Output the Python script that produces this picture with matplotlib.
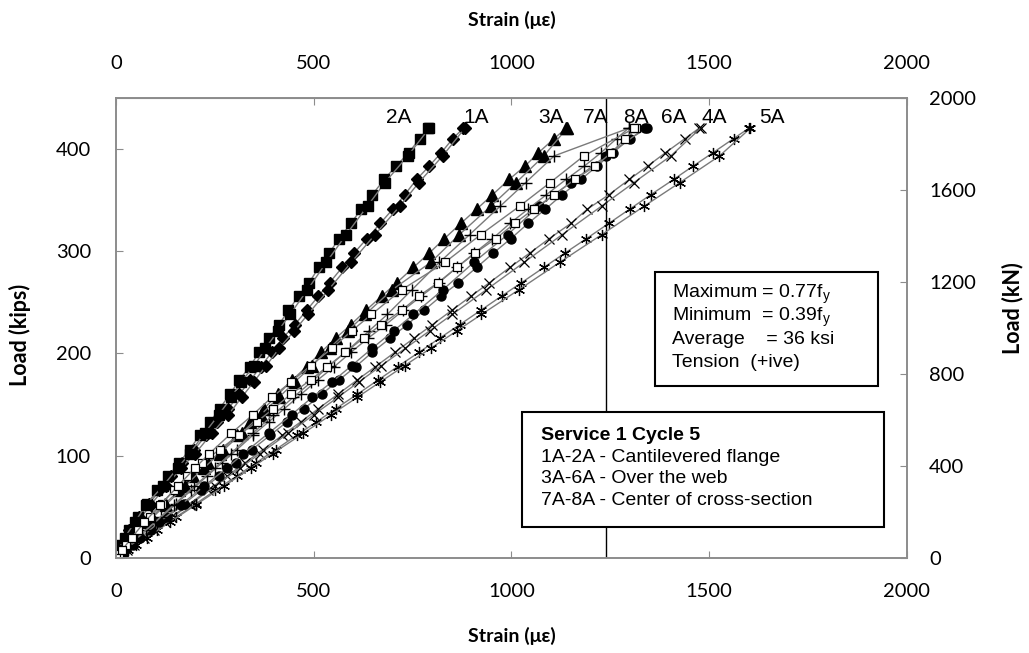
import matplotlib.pyplot as plt
from matplotlib.patches import Rectangle

# load steps (kips) shared by all gauges; first branch goes up, second branch comes back down
load_up = [0, 4, 13, 27, 40, 53, 66, 80, 93, 106, 120, 133, 146, 160, 174, 187, 201,
           215, 228, 242, 256, 269, 284, 298, 312, 327, 341, 355, 370, 383, 396, 410, 420]
load_dn = [420, 393, 367, 344, 316, 289, 262, 238, 222, 205, 188, 172, 157, 140, 122,
           102, 88, 70, 52, 35, 20, 8, 0]

# strain readings (microstrain) per gauge
strain_up = {
    "1A": [0, 4, 14, 34, 58, 84, 110, 138, 168, 198, 228, 256, 284, 312, 340, 366, 394,
           422, 452, 482, 512, 540, 572, 602, 634, 668, 700, 730, 760, 792, 822, 852, 878],
    "2A": [0, 2, 10, 32, 55, 78, 105, 132, 160, 186, 212, 238, 262, 288, 312, 338, 362,
           388, 412, 436, 462, 488, 513, 539, 564, 594, 620, 648, 678, 708, 740, 768, 788],
    "3A": [0, 6, 24, 56, 90, 124, 160, 196, 232, 270, 306, 340, 374, 410, 446, 482, 518,
           556, 594, 632, 672, 710, 752, 792, 830, 872, 912, 952, 994, 1034, 1068, 1108, 1138],
    "4A": [0, 14, 46, 95, 140, 186, 232, 281, 326, 372, 421, 467, 512, 561, 610, 656, 705,
           754, 800, 849, 898, 944, 996, 1046, 1095, 1150, 1192, 1246, 1298, 1344, 1389, 1439, 1474],
    "5A": [0, 15, 50, 103, 152, 202, 251, 305, 354, 404, 457, 507, 556, 610, 663, 712, 766,
           819, 869, 922, 975, 1025, 1082, 1135, 1189, 1246, 1299, 1352, 1410, 1459, 1509, 1562, 1600],
    "6A": [0, 12, 42, 88, 130, 172, 215, 260, 303, 344, 390, 432, 476, 520, 564, 606, 648,
           694, 736, 779, 822, 866, 912, 954, 998, 1042, 1086, 1128, 1176, 1216, 1256, 1300, 1342],
    "7A": [0, 10, 36, 76, 114, 152, 190, 230, 268, 306, 346, 386, 426, 468, 510, 552, 594,
           638, 682, 726, 772, 816, 862, 906, 952, 996, 1042, 1088, 1138, 1184, 1226, 1266, 1296],
    "8A": [0, 8, 26, 56, 86, 116, 146, 180, 218, 262, 310, 356, 398, 442, 492, 534, 580,
           626, 670, 722, 766, 814, 862, 908, 960, 1008, 1056, 1108, 1160, 1212, 1252, 1288, 1316],
}
strain_dn = {
    "1A": [882, 826, 766, 718, 655, 595, 537, 485, 451, 413, 380, 348, 318, 284, 243, 200, 165, 126, 88, 54, 27, 9, 0],
    "2A": [792, 738, 680, 636, 582, 532, 484, 440, 410, 378, 350, 316, 292, 260, 224, 186, 156, 118, 76, 48, 22, 6, 0],
    "3A": [1140, 1082, 1012, 948, 868, 796, 698, 630, 586, 540, 496, 452, 412, 366, 318, 262, 222, 174, 126, 80, 42, 14, 0],
    "4A": [1478, 1403, 1310, 1228, 1128, 1032, 936, 850, 793, 732, 671, 614, 561, 500, 436, 364, 314, 250, 186, 125, 72, 29, 0],
    "5A": [1604, 1526, 1426, 1336, 1228, 1122, 1018, 924, 862, 796, 730, 668, 610, 544, 474, 396, 342, 272, 202, 136, 78, 31, 0],
    "6A": [1338, 1239, 1150, 1070, 990, 905, 826, 752, 702, 648, 596, 546, 496, 444, 386, 322, 280, 222, 164, 110, 62, 24, 0],
    "7A": [1296, 1108, 1036, 972, 894, 818, 748, 686, 640, 592, 540, 494, 448, 398, 346, 290, 250, 198, 146, 98, 54, 20, 0],
    "8A": [1310, 1183, 1098, 1021, 922, 832, 722, 646, 596, 546, 492, 442, 394, 346, 292, 236, 200, 156, 112, 72, 40, 16, 0],
}

# gauge label positions along the top (strain, kips)
label_x = {"2A": 716, "1A": 910, "3A": 1099, "7A": 1214, "8A": 1315, "6A": 1411, "4A": 1512, "5A": 1659}
label_y = 425

yield_line = 1240  # microstrain
kn_max = 2000
kips_max = kn_max / 4.448

markers = {
    "1A": dict(marker="D", ms=6, mfc="black"),
    "2A": dict(marker="s", ms=6.5, mfc="black"),
    "3A": dict(marker="^", ms=8, mfc="black"),
    "4A": dict(marker="x", ms=7, mew=0.9),
    "5A": dict(marker=(6, 2, 0), ms=8, mew=0.9),
    "6A": dict(marker="o", ms=6.5, mfc="black"),
    "7A": dict(marker="+", ms=8, mew=1.0),
    "8A": dict(marker="s", ms=6, mfc="white", mew=0.9),
}

tick_font = ["Lato", "DejaVu Sans"]
grey = "#8c8c8c"

fig = plt.figure(figsize=(10.29, 6.53), dpi=100)
ax = fig.add_axes([0.1127, 0.1455, 0.7687, 0.7045])

for g in ["1A", "2A", "3A", "4A", "5A", "6A", "7A", "8A"]:
    ax.plot(strain_up[g], load_up, color="#7a7a7a", lw=1.0, mec="black", **markers[g])
    ax.plot(strain_dn[g], load_dn, color="#7a7a7a", lw=1.0, mec="black", **markers[g])

ax.axvline(yield_line, color="black", lw=1.0, zorder=1)

for g, x in label_x.items():
    ax.text(x, label_y, g, ha="center", va="baseline", fontsize=15,
            family="Liberation Sans")

ax.set_xlim(0, 2000)
ax.set_ylim(0, kips_max)
ax.set_xticks([0, 500, 1000, 1500, 2000])
ax.set_yticks([0, 100, 200, 300, 400])

ax2 = ax.twinx()
ax2.set_ylim(0, kn_max)
ax2.set_yticks([0, 400, 800, 1200, 1600, 2000])

ax3 = ax.secondary_xaxis("top")
ax3.set_xticks([0, 500, 1000, 1500, 2000])

for a in (ax, ax2):
    for s in a.spines.values():
        s.set_color(grey)
        s.set_linewidth(1.2)
ax3.spines["top"].set_color(grey)

ax.tick_params(axis="y", direction="in", length=5, color=grey, pad=18, labelsize=14.5)
ax.tick_params(axis="x", direction="in", length=5, color=grey, pad=18, labelsize=14.5)
ax2.tick_params(axis="y", direction="in", length=5, color=grey, pad=16, labelsize=14.5)
ax3.tick_params(axis="x", direction="in", length=5, color=grey, pad=19, labelsize=14.5)
for a in (ax, ax2, ax3):
    for lab in a.get_xticklabels() + a.get_yticklabels():
        lab.set_family(tick_font)

# axis titles
title_kw = dict(fontweight="bold", family=tick_font)
fig.text(0.4971, 0.9694, "Strain (\u03bc\u03b5)", ha="center", va="center", fontsize=14, **title_kw)
fig.text(0.4971, 0.026, "Strain (\u03bc\u03b5)", ha="center", va="center", fontsize=14, **title_kw)
fig.text(0.0194, 1 - 335 / 653, "Load (kips)", ha="center", va="center", rotation=90,
         fontsize=15.5, **title_kw)
fig.text(0.9835, 1 - 308 / 653, "Load (kN)", ha="center", va="center", rotation=90,
         fontsize=15.5, **title_kw)

# stress summary box
ax.add_patch(Rectangle((0.6814, 0.3739), 0.2819, 0.2478, transform=ax.transAxes,
                       facecolor="white", edgecolor="black", lw=1.5, zorder=5))
box_kw = dict(transform=ax.transAxes, fontsize=14, family="Liberation Sans",
              va="baseline", ha="left", zorder=6)
summary = [r"Maximum = 0.77f$_{\mathregular{y}}$",
           r"Minimum  = 0.39f$_{\mathregular{y}}$",
           "Average    = 36 ksi",
           "Tension  (+ive)"]
for txt, yb in zip(summary, [0.5652, 0.5152, 0.4652, 0.4152]):
    ax.text(0.7029, yb, txt, **box_kw)

# gauge location box
ax.add_patch(Rectangle((0.5133, 0.0674), 0.4576, 0.25, transform=ax.transAxes,
                       facecolor="white", edgecolor="black", lw=1.5, zorder=5))
legend_lines = ["1A-2A - Cantilevered flange",
                "3A-6A - Over the web",
                "7A-8A - Center of cross-section"]
ax.text(0.5373, 0.2565, "Service 1 Cycle 5", fontweight="bold", **box_kw)
for txt, yb in zip(legend_lines, [0.2087, 0.1630, 0.1152]):
    ax.text(0.5373, yb, txt, **box_kw)

fig.savefig("out.png", dpi=100)
